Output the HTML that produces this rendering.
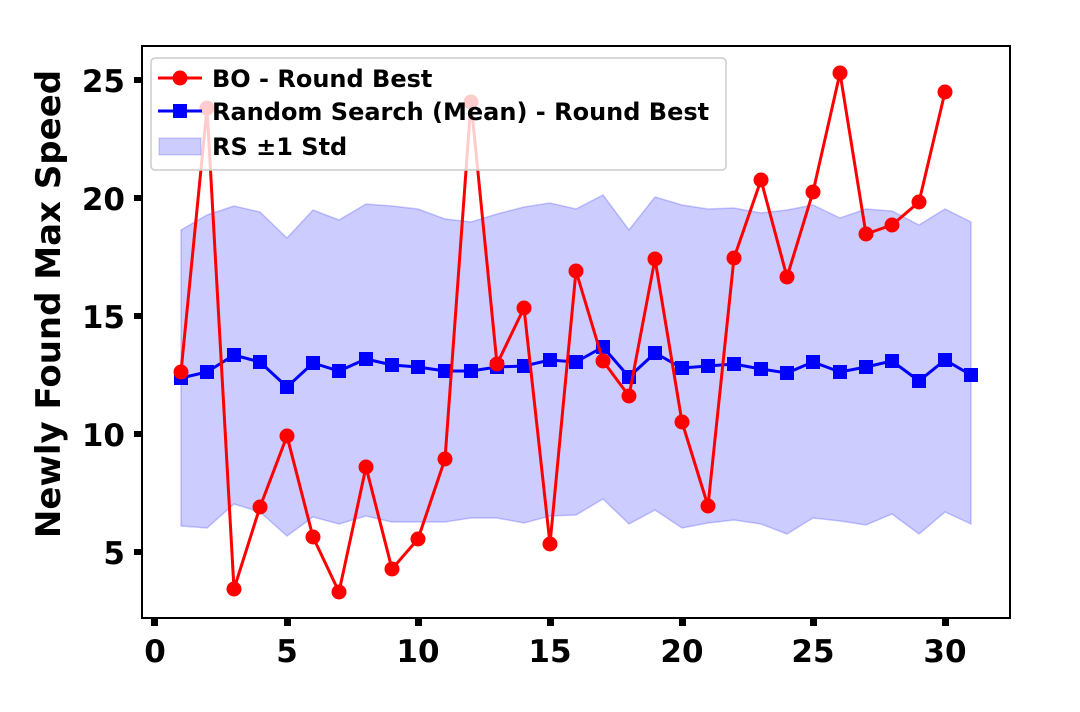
<!DOCTYPE html>
<html><head><meta charset="utf-8"><style>
html,body{margin:0;padding:0;background:#fff;}
svg text{font-family:"DejaVu Sans","Liberation Sans",sans-serif;font-weight:bold;}
</style></head><body>
<svg width="1080" height="707" viewBox="0 0 1080 707" xmlns="http://www.w3.org/2000/svg">
<rect width="1080" height="707" fill="#fff"/>
<polygon fill="#0000ff" fill-opacity="0.2" stroke="#0000ff" stroke-opacity="0.2" stroke-width="1.5" points="
181,230 207,215 234,206 260,212 287,238 313,210 339,220 366,204 392,206 418,209 445,219 471,222 497,214 524,207 550,203 576,209 603,195 629,230 655,197 682,205 708,209 734,208 761,213 787,210 813,205 840,218 866,209 892,211 919,225 945,209 971,222
971,524 945,512 919,534 892,514 866,525 840,521 813,518 787,534 761,524 734,520 708,523 682,528 655,510 629,524 603,499 576,515 550,516 524,523 497,518 471,518 445,522 418,522 392,522 366,516 339,524 313,517 287,536 260,512 234,504 207,528 181,526"/>
<polyline fill="none" stroke="#0000ff" stroke-width="3" points="181,378 207,372 234,355 260,362 287,387 313,363 339,371 366,359 392,365 418,367 445,371 471,371 497,367 524,366 550,360 576,362 603,347 629,377 655,353 682,368 708,366 734,364 761,369 787,373 813,362 840,372 866,367 892,361 919,381 945,360 971,375"/>
<g fill="#0000ff">
<rect x="174" y="371" width="14" height="14"/><rect x="200" y="365" width="14" height="14"/><rect x="227" y="348" width="14" height="14"/><rect x="253" y="355" width="14" height="14"/><rect x="280" y="380" width="14" height="14"/><rect x="306" y="356" width="14" height="14"/><rect x="332" y="364" width="14" height="14"/><rect x="359" y="352" width="14" height="14"/><rect x="385" y="358" width="14" height="14"/><rect x="411" y="360" width="14" height="14"/><rect x="438" y="364" width="14" height="14"/><rect x="464" y="364" width="14" height="14"/><rect x="490" y="360" width="14" height="14"/><rect x="517" y="359" width="14" height="14"/><rect x="543" y="353" width="14" height="14"/><rect x="569" y="355" width="14" height="14"/><rect x="596" y="340" width="14" height="14"/><rect x="622" y="370" width="14" height="14"/><rect x="648" y="346" width="14" height="14"/><rect x="675" y="361" width="14" height="14"/><rect x="701" y="359" width="14" height="14"/><rect x="727" y="357" width="14" height="14"/><rect x="754" y="362" width="14" height="14"/><rect x="780" y="366" width="14" height="14"/><rect x="806" y="355" width="14" height="14"/><rect x="833" y="365" width="14" height="14"/><rect x="859" y="360" width="14" height="14"/><rect x="885" y="354" width="14" height="14"/><rect x="912" y="374" width="14" height="14"/><rect x="938" y="353" width="14" height="14"/><rect x="964" y="368" width="14" height="14"/>
</g>
<polyline fill="none" stroke="#ff0000" stroke-width="3" points="181,372 207,108 234,589 260,507 287,436 313,537 339,592 366,467 392,569 418,539 445,459 471,102 497,364 524,308 550,544 576,271 603,361 629,396 655,259 682,422 708,506 734,258 761,180 787,277 813,192 840,73 866,234 892,225 919,202 945,92"/>
<g fill="#ff0000">
<circle cx="181" cy="372" r="7.5"/><circle cx="207" cy="108" r="7.5"/><circle cx="234" cy="589" r="7.5"/><circle cx="260" cy="507" r="7.5"/><circle cx="287" cy="436" r="7.5"/><circle cx="313" cy="537" r="7.5"/><circle cx="339" cy="592" r="7.5"/><circle cx="366" cy="467" r="7.5"/><circle cx="392" cy="569" r="7.5"/><circle cx="418" cy="539" r="7.5"/><circle cx="445" cy="459" r="7.5"/><circle cx="471" cy="102" r="7.5"/><circle cx="497" cy="364" r="7.5"/><circle cx="524" cy="308" r="7.5"/><circle cx="550" cy="544" r="7.5"/><circle cx="576" cy="271" r="7.5"/><circle cx="603" cy="361" r="7.5"/><circle cx="629" cy="396" r="7.5"/><circle cx="655" cy="259" r="7.5"/><circle cx="682" cy="422" r="7.5"/><circle cx="708" cy="506" r="7.5"/><circle cx="734" cy="258" r="7.5"/><circle cx="761" cy="180" r="7.5"/><circle cx="787" cy="277" r="7.5"/><circle cx="813" cy="192" r="7.5"/><circle cx="840" cy="73" r="7.5"/><circle cx="866" cy="234" r="7.5"/><circle cx="892" cy="225" r="7.5"/><circle cx="919" cy="202" r="7.5"/><circle cx="945" cy="92" r="7.5"/>
</g>
<rect x="142" y="46" width="868" height="572" fill="none" stroke="#000" stroke-width="2"/>
<g fill="#000">
<rect x="134" y="77" width="8" height="6"/><rect x="134" y="195" width="8" height="6"/><rect x="134" y="313" width="8" height="6"/><rect x="134" y="431" width="8" height="6"/><rect x="134" y="549" width="8" height="6"/>
<rect x="151" y="618" width="7" height="8"/><rect x="284" y="618" width="7" height="8"/><rect x="415" y="618" width="7" height="8"/><rect x="547" y="618" width="7" height="8"/><rect x="679" y="618" width="7" height="8"/><rect x="810" y="618" width="7" height="8"/><rect x="942" y="618" width="7" height="8"/>
</g>
<g font-size="31" text-anchor="end">
<text x="125" y="92">25</text><text x="125" y="210">20</text><text x="125" y="328">15</text><text x="125" y="446">10</text><text x="125" y="564">5</text>
</g>
<g font-size="31" text-anchor="middle">
<text x="155" y="662">0</text><text x="287" y="662">5</text><text x="418" y="662">10</text><text x="550" y="662">15</text><text x="682" y="662">20</text><text x="813" y="662">25</text><text x="945" y="662">30</text>
</g>
<text font-size="34" text-anchor="middle" transform="translate(60,304) rotate(-90)">Newly Found Max Speed</text>
<rect x="151" y="58" width="575" height="112" rx="4" fill="#fff" fill-opacity="0.8" stroke="#ccc" stroke-width="1.5"/>
<line x1="158" y1="78" x2="202" y2="78" stroke="#ff0000" stroke-width="3"/><circle cx="180" cy="78" r="7.5" fill="#ff0000"/>
<line x1="158" y1="111" x2="202" y2="111" stroke="#0000ff" stroke-width="3"/><rect x="173" y="104" width="14" height="14" fill="#0000ff"/>
<rect x="159" y="138" width="42" height="17" fill="#0000ff" fill-opacity="0.2" stroke="#0000ff" stroke-opacity="0.2"/>
<g font-size="24">
<text x="212" y="87">BO - Round Best</text>
<text x="212" y="120">Random Search (Mean) - Round Best</text>
<text x="212" y="155">RS ±1 Std</text>
</g>
</svg>
</body></html>
